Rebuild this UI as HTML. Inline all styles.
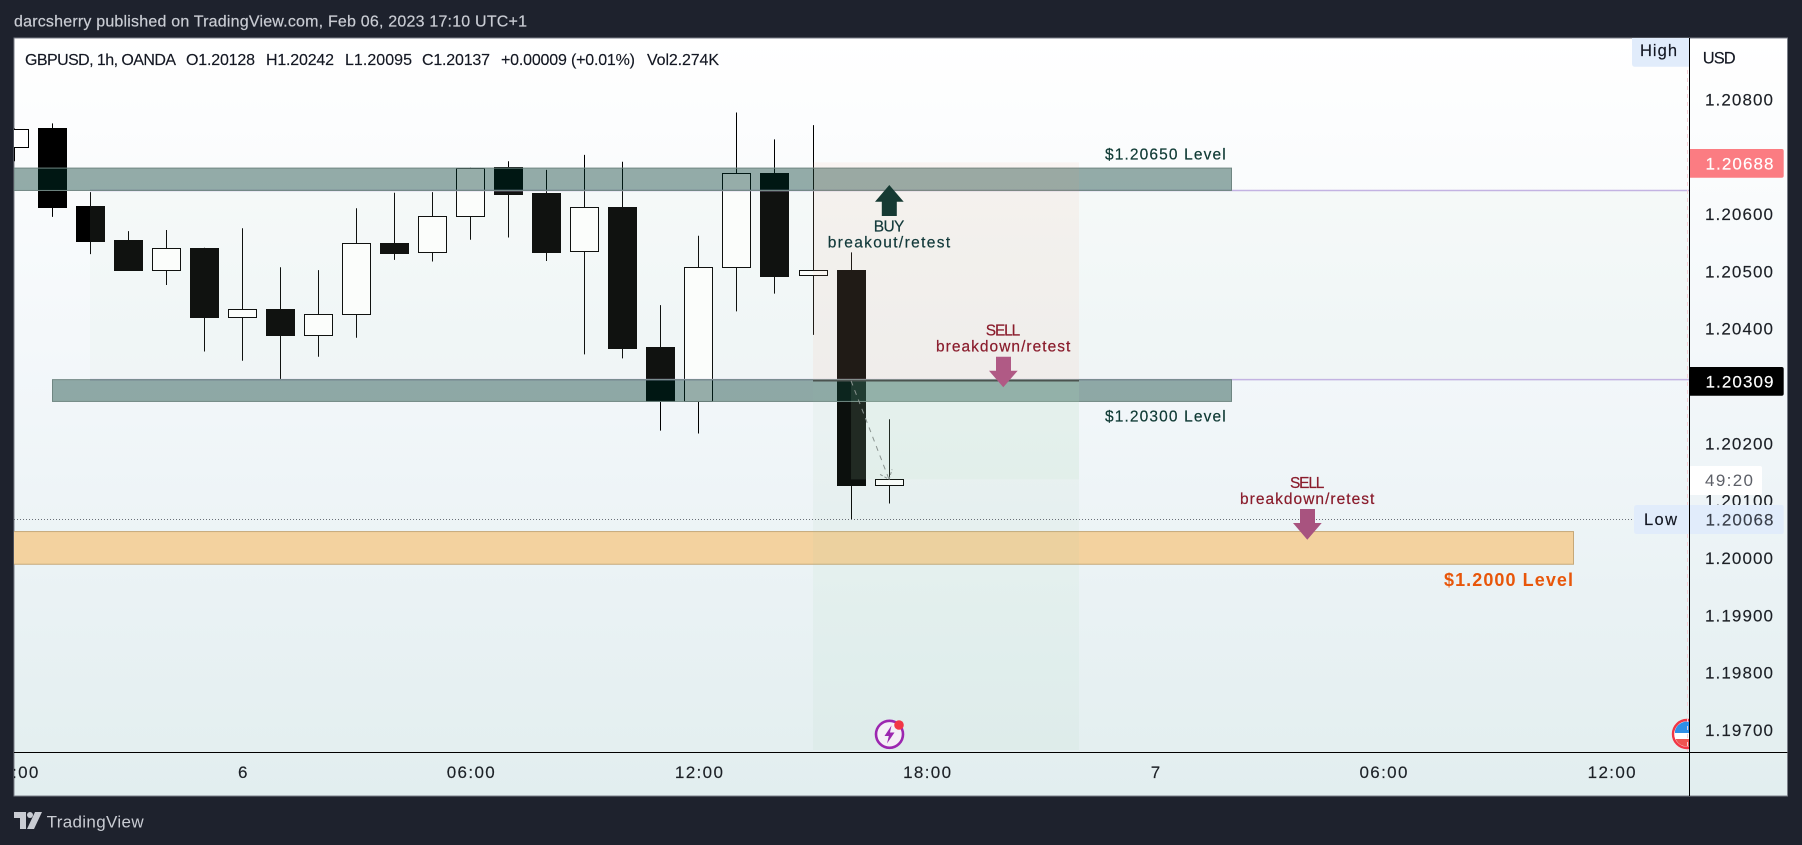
<!DOCTYPE html>
<html lang="en">
<head>
<meta charset="utf-8">
<title>GBPUSD 1h chart</title>
<style>
  html,body{margin:0;padding:0;background:#1e222d;width:1802px;height:845px;overflow:hidden}
  svg{display:block;font-family:"Liberation Sans",sans-serif}
</style>
</head>
<body>
<svg id="root" width="1802" height="845" viewBox="0 0 1802 845" xmlns="http://www.w3.org/2000/svg">
  <defs>
    <linearGradient id="chartBg" x1="0" y1="0" x2="0" y2="1">
      <stop offset="0" stop-color="#ffffff"/>
      <stop offset="0.5" stop-color="#f1f6f9"/>
      <stop offset="1" stop-color="#e2eeef"/>
    </linearGradient>
    <clipPath id="plotClip"><rect x="14" y="38" width="1675" height="714.5"/></clipPath>
    <clipPath id="axisClip"><rect x="14" y="753" width="1675" height="43"/></clipPath>
    <clipPath id="flagClip"><circle cx="1687" cy="734" r="12.5"/></clipPath>
  </defs>

  <rect x="0" y="0" width="1802" height="845" fill="#1e222d"/>
  <text x="14" y="26.5" font-size="16" fill="#c9ccd3" stroke="#c9ccd3" stroke-width="0.2" textLength="513" lengthAdjust="spacing">darcsherry published on TradingView.com, Feb 06, 2023 17:10 UTC+1</text>

  <rect x="14" y="38" width="1773.5" height="758" fill="url(#chartBg)" stroke="#7a7e88" stroke-width="1"/>

  <g clip-path="url(#plotClip)">
    <g id="candles"></g>
    <g id="rangeLayer"></g>
    <g id="zoneLayer"></g>
    <g id="toolLayer"></g>

    <line x1="14" y1="519.5" x2="1634" y2="519.5" stroke="#6a7078" stroke-width="1" stroke-dasharray="1 2"/>

    <g>
      <polygon points="889.3,185 903.7,201.7 896.8,201.7 896.8,216 881.8,216 881.8,201.7 875,201.7" fill="#163a33"/>
      <text x="873.8" y="231.5" font-size="15.5" fill="#12393a" stroke="#12393a" stroke-width="0.2" textLength="30.6">BUY</text>
      <text x="827.7" y="247.5" font-size="15.5" fill="#12393a" stroke="#12393a" stroke-width="0.2" textLength="122.5">breakout/retest</text>
    </g>
    <g>
      <text x="985.8" y="335.5" font-size="15.5" fill="#8a1c2c" stroke="#8a1c2c" stroke-width="0.2" textLength="34.4">SELL</text>
      <text x="936" y="351.5" font-size="15.5" fill="#8a1c2c" stroke="#8a1c2c" stroke-width="0.2" textLength="134.3">breakdown/retest</text>
      <polygon points="996,356.7 1011,356.7 1011,370.7 1017.7,370.7 1003.3,387.3 989,370.7 996,370.7" fill="#b05a85"/>
    </g>
    <g>
      <text x="1290" y="487.8" font-size="15.5" fill="#8a1c2c" stroke="#8a1c2c" stroke-width="0.2" textLength="34.4">SELL</text>
      <text x="1240" y="503.8" font-size="15.5" fill="#8a1c2c" stroke="#8a1c2c" stroke-width="0.2" textLength="134.3">breakdown/retest</text>
      <polygon points="1300,509 1315,509 1315,523 1321.7,523 1307.3,539.7 1293,523 1300,523" fill="#a8537f"/>
    </g>

    <text x="1105" y="159.5" font-size="15.5" fill="#0f3a34" stroke="#0f3a34" stroke-width="0.2" textLength="120.7">$1.20650 Level</text>
    <text x="1105" y="421.5" font-size="15.5" fill="#0f3a34" stroke="#0f3a34" stroke-width="0.2" textLength="120.7">$1.20300 Level</text>
    <text x="1444" y="586" font-size="18" font-weight="bold" fill="#e8560a" textLength="129">$1.2000 Level</text>

    <g>
      <circle cx="889.5" cy="734.3" r="13.5" fill="#f4f0f6" stroke="#9c27b0" stroke-width="2.6"/>
      <polygon points="891.5,725.5 884.5,736 888.8,736 887,743.5 894.5,732.5 890,732.5" fill="#9c27b0"/>
      <circle cx="899" cy="725" r="4.8" fill="#f23645"/>
    </g>
    <g>
      <circle cx="1687" cy="734" r="14" fill="#ffffff" stroke="#f23645" stroke-width="2.4"/>
      <g clip-path="url(#flagClip)">
        <rect x="1675" y="721" width="15" height="12" fill="#2f8fe6"/>
        <rect x="1673" y="739" width="17" height="8" fill="#ef5350"/>
      </g>
    </g>
    <line x1="1687.5" y1="38" x2="1687.5" y2="752" stroke="#f7cfd6" stroke-width="1" stroke-dasharray="4 4"/>
  </g>

  <g font-size="16" fill="#131722" stroke="#131722" stroke-width="0.15">
    <text x="25" y="65" textLength="151">GBPUSD, 1h, OANDA</text>
    <text x="186" y="65" textLength="69">O1.20128</text>
    <text x="266" y="65" textLength="68">H1.20242</text>
    <text x="345" y="65" textLength="67">L1.20095</text>
    <text x="422" y="65" textLength="68">C1.20137</text>
    <text x="501" y="65" textLength="134">+0.00009 (+0.01%)</text>
    <text x="647" y="65" textLength="72">Vol2.274K</text>
  </g>

  <g id="timeAxis" clip-path="url(#axisClip)"></g>
  <g id="priceAxis"></g>

  <line x1="14" y1="752.5" x2="1787.5" y2="752.5" stroke="#000" stroke-width="1"/>

  <text x="1702.7" y="63.5" font-size="16.5" fill="#131722" stroke="#131722" stroke-width="0.15" textLength="33">USD</text>

  <path d="M1632 38 H1689 V66.7 H1635 Q1632 66.7 1632 63.7 Z" fill="#e1ecfb"/>
  <text x="1640" y="56" font-size="16.5" fill="#131722" stroke="#131722" stroke-width="0.15" textLength="37">High</text>

  <path d="M1689 149 H1781.7 Q1783.7 149 1783.7 151 V175.7 Q1783.7 177.7 1781.7 177.7 H1689 Z" fill="#fb7c82"/>
  <text x="1705.5" y="169.5" font-size="17" fill="#ffffff" stroke="#ffffff" stroke-width="0.15" textLength="68">1.20688</text>

  <path d="M1689 367 H1781.7 Q1783.7 367 1783.7 369 V393.7 Q1783.7 395.7 1781.7 395.7 H1689 Z" fill="#000000"/>
  <text x="1705.5" y="387.5" font-size="17" fill="#ffffff" stroke="#ffffff" stroke-width="0.15" textLength="68">1.20309</text>

  <rect x="1689" y="466" width="73" height="29" rx="2" fill="#ffffff"/>
  <text x="1705" y="486" font-size="17" fill="#5d6068" textLength="48">49:20</text>

  <path d="M1637 505 H1781.7 Q1783.7 505 1783.7 507 V532 Q1783.7 534 1781.7 534 H1637 Q1634 534 1634 531 V508 Q1634 505 1637 505 Z" fill="#e1ecfb"/>
  <text x="1644" y="525" font-size="16.5" fill="#131722" stroke="#131722" stroke-width="0.15" textLength="33">Low</text>
  <text x="1705.5" y="525.5" font-size="17" fill="#3a3f4a" stroke="#3a3f4a" stroke-width="0.15" textLength="68">1.20068</text>

  <line x1="1689.5" y1="38" x2="1689.5" y2="796" stroke="#000" stroke-width="1"/>

  <g>
    <path d="M14 812 H26 V829 H20 V818 H14 Z" fill="#c9ccd3"/>
    <circle cx="30" cy="815" r="3" fill="#c9ccd3"/>
    <polygon points="35,812 42,812 34,829 27,829" fill="#c9ccd3"/>
    <text x="46.6" y="827.5" font-size="17" fill="#c9ccd3" textLength="97">TradingView</text>
  </g>
</svg>

<script>
// Candle data (index 0 = first full candle on the left).
const candleIndex = [-1,0,1,2,3,4,5,6,7,8,9,10,11,12,13,14,15,16,17,18,19,20,21,22];
const opens  = [1.20716,1.20750,1.20614,1.20555,1.20503,1.20541,1.20421,1.20434,1.20388,1.20425,1.20549,1.20533,1.20596,1.20682,1.20636,1.20535,1.20612,1.20368,1.20273,1.20507,1.20671,1.20493,1.20502,1.20128];
const highs  = [1.20749,1.20758,1.20638,1.20570,1.20572,1.20541,1.20575,1.20507,1.20502,1.20610,1.20637,1.20638,1.20681,1.20692,1.20677,1.20703,1.20691,1.20441,1.20562,1.20777,1.20730,1.20755,1.20533,1.20242];
const lows   = [1.20692,1.20595,1.20530,1.20503,1.20476,1.20360,1.20344,1.20312,1.20351,1.20384,1.20520,1.20517,1.20555,1.20559,1.20518,1.20355,1.20348,1.20222,1.20217,1.20430,1.20461,1.20389,1.20068,1.20095];
const closes = [1.20749,1.20613,1.20553,1.20503,1.20540,1.20421,1.20434,1.20388,1.20425,1.20549,1.20532,1.20596,1.20681,1.20635,1.20534,1.20612,1.20367,1.20273,1.20507,1.20671,1.20492,1.20502,1.20128,1.20137];

// Axis labels.
const priceTicks = ["1.20800","1.20700","1.20600","1.20500","1.20400","1.20300","1.20200","1.20100","1.20000","1.19900","1.19800","1.19700"];
const timeTickIndex = [-1,5,11,17,23,29,35,41];
const timeTickLabels = ["18:00","6","06:00","12:00","18:00","7","06:00","12:00"];

// Price levels of the drawn zones: [upper, lower].
const upperZone = [1.20680,1.20641];
const lowerZone = [1.20311,1.20273];
const supportZone = [1.20046,1.19989];
const rangeLevels = [1.20641,1.20311];
// Short position tool: stop, entry, last close, target.
const positionLevels = [1.20690,1.20309,1.20137,1.19665];

const SVGNS = "http://www.w3.org/2000/svg";
function xScale(i){ return 52.4 + 38.03*i; }
function yScale(p){ return 99.3 + (1.208 - p)*57330; }
function make(tag, attrs, parent){
  const el = document.createElementNS(SVGNS, tag);
  for (const k in attrs) el.setAttribute(k, attrs[k]);
  parent.appendChild(el);
  return el;
}

const candleGroup = document.getElementById("candles");
candleIndex.forEach(function(idx, n){
  const o = opens[n], h = highs[n], l = lows[n], c = closes[n];
  const xc = Math.floor(xScale(idx)) + 0.5;
  const up = c >= o;
  const wick = make("line", {x1:xc, x2:xc, y1:yScale(h), y2:yScale(l), stroke:"#000", "stroke-width":1}, candleGroup);
  
  
  const top = Math.round(yScale(Math.max(o,c))) + 0.5;
  const bottom = Math.round(yScale(Math.min(o,c))) + 0.5;
  const body = make("rect", {x:xc-14, y:top, width:28, height:Math.max(1,bottom-top), fill: up ? "#ffffff" : "#000000", stroke:"#000", "stroke-width":1}, candleGroup);
  
  
});

const rangeLayer = document.getElementById("rangeLayer");
const rangeBox = make("rect", {x:90, y:yScale(rangeLevels[0]), width:1599, height:yScale(rangeLevels[1])-yScale(rangeLevels[0]), fill:"rgba(200,225,210,0.08)"}, rangeLayer);


rangeLevels.forEach(function(p){
  const ln = make("line", {x1:90, x2:1689, y1:yScale(p), y2:yScale(p), stroke:"#c3b3e2", "stroke-width":1.5}, rangeLayer);
  
  
});

const zoneLayer = document.getElementById("zoneLayer");
const z1 = make("rect", {x:14, y:yScale(upperZone[0]), width:1217.5, height:yScale(upperZone[1])-yScale(upperZone[0]), fill:"rgba(0,56,46,0.41)", stroke:"#6f8682", "stroke-width":1}, zoneLayer);


const z2 = make("rect", {x:52.5, y:yScale(lowerZone[0]), width:1179, height:yScale(lowerZone[1])-yScale(lowerZone[0]), fill:"rgba(0,56,46,0.41)", stroke:"#6f8682", "stroke-width":1}, zoneLayer);


const z3 = make("rect", {x:13, y:yScale(supportZone[0]), width:1560.5, height:yScale(supportZone[1])-yScale(supportZone[0]), fill:"#f3d29f", stroke:"#c6a878", "stroke-width":1}, zoneLayer);



const toolLayer = document.getElementById("toolLayer");
const toolLeft = xScale(20);
const toolRight = 1079;
const redBox = make("rect", {x:toolLeft, y:yScale(positionLevels[0]), width:toolRight-toolLeft, height:yScale(positionLevels[1])-yScale(positionLevels[0]), fill:"rgba(243,143,114,0.075)"}, toolLayer);


const greenBox = make("rect", {x:toolLeft, y:yScale(positionLevels[1]), width:toolRight-toolLeft, height:yScale(positionLevels[3])-yScale(positionLevels[1]), fill:"rgba(150,210,170,0.08)"}, toolLayer);


const activeBox = make("rect", {x:xScale(21), y:yScale(positionLevels[1]), width:toolRight-xScale(21), height:yScale(positionLevels[2])-yScale(positionLevels[1]), fill:"rgba(190,230,200,0.12)"}, toolLayer);


const entryLine = make("line", {x1:toolLeft, x2:toolRight, y1:yScale(positionLevels[1]), y2:yScale(positionLevels[1]), stroke:"#4b5350", "stroke-width":1.5}, toolLayer);


const pathLine = make("line", {x1:xScale(21), y1:yScale(positionLevels[1]), x2:xScale(22), y2:yScale(positionLevels[2]), stroke:"#8a9490", "stroke-width":1, "stroke-dasharray":"5 5"}, toolLayer);


const ax = xScale(22), ay = yScale(positionLevels[2]);
const pathHead = make("path", {d:"M"+(ax-9)+" "+(ay-5)+" L"+ax+" "+ay+" L"+(ax+3)+" "+(ay-10), fill:"none", stroke:"#8a9490", "stroke-width":1, "stroke-dasharray":"3 2"}, toolLayer);



const priceAxis = document.getElementById("priceAxis");
priceTicks.forEach(function(label){
  const t = make("text", {x:1705, y:yScale(parseFloat(label))+6, "font-size":17, fill:"#1c2026", stroke:"#1c2026", "stroke-width":0.15, textLength:68}, priceAxis);
  
  
  t.textContent = label;
});

const timeAxis = document.getElementById("timeAxis");
timeTickLabels.forEach(function(label, n){
  const w = label.length > 1 ? 48 : 9;
  const t = make("text", {x:xScale(timeTickIndex[n])-w/2, y:778, "font-size":17, fill:"#1c2026", stroke:"#1c2026", "stroke-width":0.15, textLength:w}, timeAxis);
  
  
  t.textContent = label;
});
</script>
</body>
</html>
